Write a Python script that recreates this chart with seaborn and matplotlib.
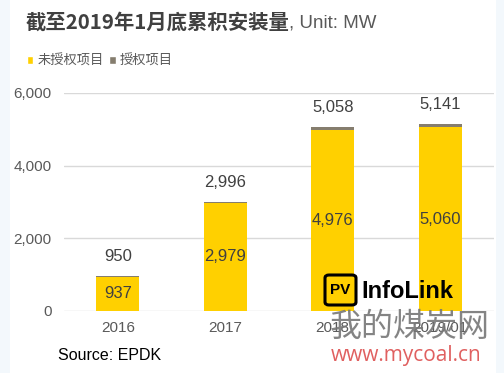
import matplotlib
matplotlib.use("Agg")
import matplotlib.pyplot as plt
import seaborn as sns
import pandas as pd
from matplotlib.patches import Patch, Rectangle, FancyBboxPatch

# Data (MW)
years = ["2016", "2017", "2018", "2019/01"]
unlicensed = [937, 2979, 4976, 5060]   # 未授权项目
totals = [950, 2996, 5058, 5141]       # 未授权 + 授权
licensed = [t - u for t, u in zip(totals, unlicensed)]  # 授权项目

YELLOW = "#FFD000"
GREY = "#857D6E"
TXT = "#595959"

sns.set_theme(style="white")
plt.rcParams["font.family"] = ["Liberation Sans", "Noto Sans CJK SC", "DejaVu Sans"]

df = pd.DataFrame({"year": years, "unlicensed": unlicensed, "total": totals})

fig = plt.figure(figsize=(5.04, 3.73), dpi=100)
fig.patch.set_facecolor("#F3F8FC")
fig.patches.append(Rectangle((10 / 504, 0), 486 / 504, 1, transform=fig.transFigure,
                             facecolor="white", edgecolor="none", zorder=-5))

ax = fig.add_axes([64 / 504, 1 - 311 / 373, 430 / 504, 218 / 373])
ax.set_zorder(2)
ax.set_facecolor("none")

# stacked: total in grey first, unlicensed part in yellow on top of it
sns.barplot(data=df, x="year", y="total", color=GREY, width=0.4, saturation=1,
            edgecolor="none", linewidth=0, ax=ax, zorder=2)
sns.barplot(data=df, x="year", y="unlicensed", color=YELLOW, width=0.4, saturation=1,
            edgecolor="none", linewidth=0, ax=ax, zorder=3)

ax.set_ylim(0, 6000)
ax.set_yticks([0, 2000, 4000, 6000])
ax.set_yticklabels(["0", "2,000", "4,000", "6,000"])
ax.yaxis.grid(True, color="#D9D9D9", linewidth=1)
ax.set_axisbelow(True)
for s in ax.spines.values():
    s.set_visible(False)
ax.tick_params(axis="both", length=0, labelsize=11, colors=TXT)
ax.tick_params(axis="y", pad=9)
ax.tick_params(axis="x", pad=7)
ax.set_xlabel("")
ax.set_ylabel("")

for i, (u, t) in enumerate(zip(unlicensed, totals)):
    ax.annotate(f"{t:,}", (i, t), xytext=(0, 9), textcoords="offset points",
                ha="center", va="bottom", fontsize=12, color="#404040")
    ax.text(i, u / 2, f"{u:,}", ha="center", va="center", fontsize=12, color="#404040", zorder=4)

# title
fig.text(26 / 504, 1 - 22 / 373, "截至2019年1月底累积安装量", fontsize=14.7, fontweight="bold",
         color="#404040", va="center", family=["Noto Sans CJK SC", "DejaVu Sans"])
fig.text(289 / 504, 1 - 23 / 373, ", Unit: MW", fontsize=13.5, color=TXT, va="center")

# legend
handles = [Patch(facecolor=YELLOW, label="未授权项目"), Patch(facecolor=GREY, label="授权项目")]
fig.legend(handles=handles, loc="center left", bbox_to_anchor=(15 / 504, 1 - 61 / 373),
           ncol=2, frameon=False, handlelength=0.5, handleheight=0.5,
           handletextpad=0.3, columnspacing=0.4, labelcolor=TXT,
           prop={"family": ["Noto Sans CJK SC", "DejaVu Sans"], "size": 9.5})

# source
fig.text(58 / 504, 1 - 355 / 373, "Source: EPDK", fontsize=11.5, color="black", va="center")

# InfoLink logo
fig.patches.append(FancyBboxPatch((325 / 504, 1 - 305 / 373), 31 / 504, 30 / 373,
                                  boxstyle="round,pad=0,rounding_size=0.008",
                                  transform=fig.transFigure, facecolor=YELLOW,
                                  edgecolor="black", linewidth=2.2, zorder=5))
fig.text(340.5 / 504, 1 - 290 / 373, "PV", fontsize=11, fontweight="bold", ha="center",
         va="center", color="black", zorder=6)
fig.text(361 / 504, 1 - 291 / 373, "InfoLink", fontsize=17, fontweight="bold",
         va="center", color="black", zorder=6)

# watermark
fig.text(330 / 504, 1 - 327 / 373, "我的煤炭网", fontsize=23, color="#777777", alpha=0.9,
         va="center", family=["Noto Sans CJK SC", "DejaVu Sans"], zorder=7)
fig.text(331 / 504, 1 - 355 / 373, "www.mycoal.cn", fontsize=15, color="#E06060",
         va="center", family=["Open Sans", "DejaVu Sans"], zorder=7)

fig.savefig("out.png", dpi=100)
